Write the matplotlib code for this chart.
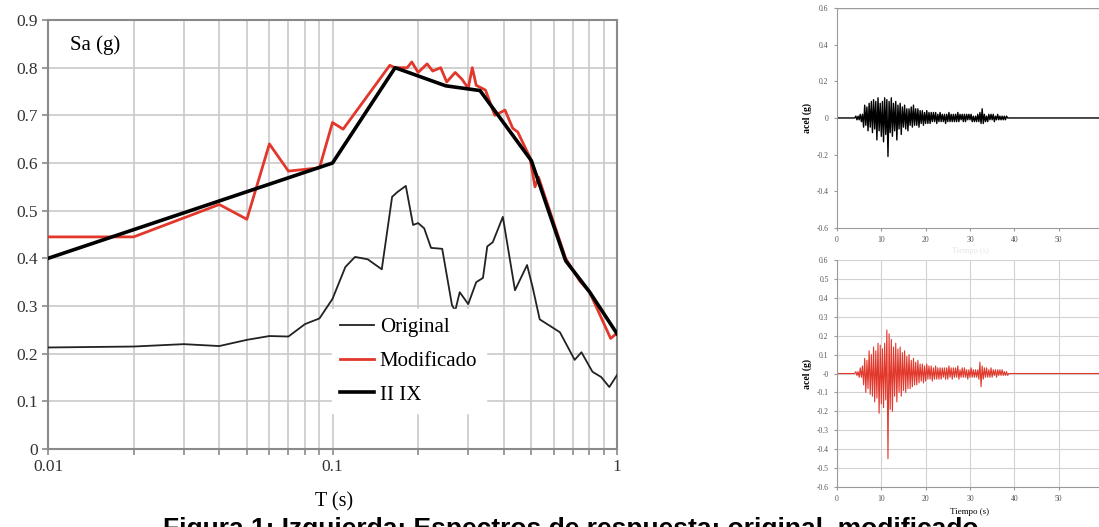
import numpy as np
import matplotlib.pyplot as plt
from matplotlib.ticker import FixedLocator, NullFormatter

plt.rcParams['font.family'] = ['Liberation Serif', 'DejaVu Serif']

# espectros de respuesta (T en s, Sa en g)
T_orig = [0.01, 0.02, 0.03, 0.04, 0.05, 0.06, 0.07, 0.08, 0.09, 0.1, 0.111, 0.12,
          0.133, 0.149, 0.162, 0.169, 0.181, 0.192, 0.2, 0.21, 0.222, 0.243, 0.263,
          0.27, 0.28, 0.30, 0.32, 0.338, 0.35, 0.366, 0.397, 0.438, 0.483, 0.505,
          0.535, 0.63, 0.71, 0.75, 0.82, 0.88, 0.94, 1.0]
Sa_orig = [0.213, 0.215, 0.22, 0.216, 0.229, 0.237, 0.236, 0.262, 0.274, 0.315, 0.382,
           0.403, 0.398, 0.377, 0.529, 0.539, 0.552, 0.47, 0.474, 0.463, 0.422, 0.42,
           0.302, 0.29, 0.329, 0.304, 0.35, 0.359, 0.425, 0.434, 0.487, 0.333, 0.386,
           0.34, 0.272, 0.245, 0.187, 0.203, 0.162, 0.151, 0.13, 0.155]

T_mod = [0.01, 0.02, 0.04, 0.05, 0.06, 0.07, 0.09, 0.1, 0.109, 0.159, 0.166, 0.183,
         0.19, 0.2, 0.215, 0.225, 0.24, 0.252, 0.27, 0.285, 0.30, 0.31, 0.32, 0.345,
         0.372, 0.404, 0.43, 0.448, 0.494, 0.515, 0.53, 0.66, 0.741, 0.8, 0.95, 1.0]
Sa_mod = [0.445, 0.445, 0.513, 0.482, 0.64, 0.583, 0.59, 0.685, 0.671, 0.805, 0.80,
          0.80, 0.812, 0.79, 0.808, 0.793, 0.80, 0.77, 0.79, 0.776, 0.757, 0.80, 0.763,
          0.753, 0.70, 0.711, 0.673, 0.665, 0.612, 0.55, 0.57, 0.40, 0.352, 0.33, 0.232,
          0.243]

T_norma = [0.01, 0.1, 0.166, 0.25, 0.33, 0.5, 0.66, 0.8, 1.0]
Sa_norma = [0.40, 0.60, 0.80, 0.762, 0.752, 0.605, 0.395, 0.33, 0.242]

# acelerogramas (g), muestras cada 0.25 s desde 4 s
t0 = 4.0
acel_orig = [
    0.00, 0.01, -0.01, 0.01, -0.01, 0.02, -0.02, 0.02,
    -0.05, 0.07, -0.04, 0.06, -0.07, 0.08, -0.05, 0.09,
    -0.08, 0.10, -0.06, 0.09, -0.12, 0.11, -0.07, 0.08,
    -0.10, 0.09, -0.13, 0.11, -0.09, 0.10, -0.21, 0.09,
    -0.08, 0.11, -0.10, 0.08, -0.07, 0.09, -0.12, 0.07,
    -0.06, 0.08, -0.09, 0.06, -0.05, 0.07, -0.06, 0.05,
    -0.07, 0.05, -0.04, 0.06, -0.05, 0.07, -0.04, 0.05,
    -0.04, 0.05, -0.05, 0.04, -0.03, 0.04, -0.04, 0.03,
    -0.03, 0.04, -0.03, 0.03, -0.03, 0.03, -0.02, 0.03,
    -0.02, 0.03, -0.03, 0.02, -0.02, 0.03, -0.02, 0.02,
    -0.02, 0.02, -0.03, 0.02, -0.02, 0.03, -0.02, 0.02,
    -0.02, 0.02, -0.02, 0.02, -0.02, 0.03, -0.02, 0.02,
    -0.01, 0.02, -0.02, 0.02, -0.02, 0.02, -0.01, 0.02,
    -0.01, 0.02, -0.02, 0.01, -0.02, 0.01, -0.02, 0.02,
    -0.02, 0.03, -0.03, 0.05, -0.03, 0.02, -0.02, 0.01,
    -0.02, 0.02, -0.01, 0.02, -0.01, 0.02, -0.02, 0.01,
    -0.01, 0.02, -0.01, 0.01, -0.01, 0.01, -0.01, 0.01,
    -0.01, 0.01, 0.00, 0.00]
acel_mod = [
    0.00, 0.01, -0.01, 0.01, -0.02, 0.03, -0.02, 0.04,
    -0.06, 0.08, -0.10, 0.07, -0.08, 0.12, -0.11, 0.10,
    -0.12, 0.14, -0.15, 0.12, -0.13, 0.16, -0.21, 0.15,
    -0.16, 0.13, -0.18, 0.16, -0.14, 0.23, -0.45, 0.21,
    -0.19, 0.18, -0.20, 0.14, -0.12, 0.16, -0.15, 0.13,
    -0.10, 0.14, -0.12, 0.11, -0.09, 0.12, -0.10, 0.09,
    -0.08, 0.10, -0.08, 0.07, -0.07, 0.08, -0.06, 0.06,
    -0.06, 0.07, -0.05, 0.05, -0.04, 0.05, -0.05, 0.04,
    -0.04, 0.05, -0.03, 0.04, -0.03, 0.04, -0.04, 0.03,
    -0.03, 0.04, -0.03, 0.03, -0.03, 0.03, -0.03, 0.03,
    -0.02, 0.03, -0.03, 0.03, -0.03, 0.04, -0.02, 0.03,
    -0.03, 0.03, -0.02, 0.03, -0.02, 0.04, -0.03, 0.02,
    -0.02, 0.03, -0.02, 0.03, -0.02, 0.02, -0.03, 0.02,
    -0.02, 0.03, -0.02, 0.02, -0.02, 0.02, -0.02, 0.02,
    -0.03, 0.06, -0.07, 0.04, -0.03, 0.03, -0.02, 0.03,
    -0.02, 0.02, -0.02, 0.03, -0.02, 0.02, -0.01, 0.02,
    -0.02, 0.02, -0.01, 0.02, -0.01, 0.02, -0.01, 0.01,
    -0.01, 0.01, -0.01, 0.00]

rojo = '#e2372b'

fig = plt.figure(figsize=(10.99, 5.27), dpi=100)

# ---- espectros ----
ax = fig.add_axes([0.0437, 0.148, 0.5177, 0.814])
ax.plot(T_orig, Sa_orig, color='#222222', lw=1.3, label='Original', zorder=3)
ax.plot(T_mod, Sa_mod, color=rojo, lw=2.0, label='Modificado', zorder=4)
ax.plot(T_norma, Sa_norma, color='black', lw=2.6, label='II IX', zorder=5)
ax.set_xscale('log')
ax.set_xlim(0.01, 1)
ax.set_ylim(0, 0.9)
ax.set_xticks([0.01, 0.1, 1])
ax.set_xticklabels(['0.01', '0.1', '1'])
ax.xaxis.set_minor_locator(FixedLocator([k * d for d in (0.01, 0.1) for k in range(2, 10)]))
ax.xaxis.set_minor_formatter(NullFormatter())
ax.set_yticks(np.arange(0, 0.91, 0.1))
ax.set_yticklabels(['0'] + ['%.1f' % v for v in np.arange(0.1, 0.91, 0.1)])
ax.grid(True, which='both', color='#c9c9c9', lw=1.2)
ax.set_axisbelow(True)
for s in ax.spines.values():
    s.set_color('#8a8a8a')
    s.set_linewidth(1.5)
ax.tick_params(which='both', direction='out', color='#8a8a8a', length=4, width=1.2,
               labelsize=12.5, labelcolor='#333333')
ax.text(0.039, 0.942, 'Sa (g)', transform=ax.transAxes, fontsize=15, va='center')
leg = ax.legend(loc='upper left', bbox_to_anchor=(0.499, 0.326), borderaxespad=0,
                frameon=True, fontsize=15, handlelength=1.6, handletextpad=0.3,
                labelspacing=0.68, borderpad=0.4, fancybox=False)
leg.get_frame().set_edgecolor('white')
leg.get_frame().set_facecolor('white')
leg.get_frame().set_alpha(1)
fig.text(334 / 1099, 1 - 502 / 527, 'T (s)', fontsize=14.5, ha='center', va='center')

# ---- acelerogramas ----
t = [0.0] + [t0 + 0.25 * i for i in range(len(acel_orig))] + [60.0]

ax1 = fig.add_axes([0.7616, 0.5674, 0.242, 0.4175])
ax1.plot(t, [0.0] + acel_orig + [0.0], color='black', lw=1.0)
ax1.set_xlim(0, 60)
ax1.set_ylim(-0.6, 0.6)
ax1.set_xticks(range(0, 61, 10))
ax1.set_yticks([0.6, 0.4, 0.2, 0, -0.2, -0.4, -0.6])
ax1.set_yticklabels(['0.6', '0.4', '0.2', '0', '-0.2', '-0.4', '-0.6'])
ax1.axhline(0.6, color='#9a9a9a', lw=1.0)
for s in ['top', 'right']:
    ax1.spines[s].set_visible(False)
for s in ['left', 'bottom']:
    ax1.spines[s].set_color('#9a9a9a')
ax1.tick_params(direction='out', color='#9a9a9a', length=2, pad=4, labelsize=5.5,
                labelcolor='#555555')
ax1.set_ylabel('acel (g)', fontsize=7, fontweight='bold', labelpad=3)
ax1.set_xlabel('Tiempo (s)', fontsize=6, color='#e6e6e6', labelpad=2)

ax2 = fig.add_axes([0.7616, 0.0759, 0.242, 0.4307])
ax2.plot(t, [0.0] + acel_mod + [0.0], color=rojo, lw=0.8)
ax2.set_xlim(0, 60)
ax2.set_ylim(-0.6, 0.6)
ax2.set_xticks(range(0, 61, 10))
ax2.set_yticks(np.round(np.arange(-0.6, 0.61, 0.1), 1))
ax2.set_yticklabels(['%g' % v for v in np.round(np.arange(-0.6, 0.61, 0.1), 1)])
ax2.grid(True, color='#d2d2d2', lw=0.8)
ax2.set_axisbelow(True)
for s in ['top', 'right']:
    ax2.spines[s].set_visible(False)
for s in ['left', 'bottom']:
    ax2.spines[s].set_color('#9a9a9a')
ax2.tick_params(direction='out', color='#9a9a9a', length=2, pad=4, labelsize=5.5,
                labelcolor='#555555')
ax2.set_ylabel('acel (g)', fontsize=7, fontweight='bold', labelpad=3)
ax2.set_xlabel('Tiempo (s)', fontsize=6.5, labelpad=3)

# pie de figura (recortado abajo)
fig.text(163 / 1099, 1 - 517 / 527,
         'Figura 1: Izquierda: Espectros de respuesta: original, modificado',
         fontsize=19, fontweight='bold', family=['Liberation Sans', 'DejaVu Sans'],
         ha='left', va='top')

fig.savefig('out.png', dpi=100)
